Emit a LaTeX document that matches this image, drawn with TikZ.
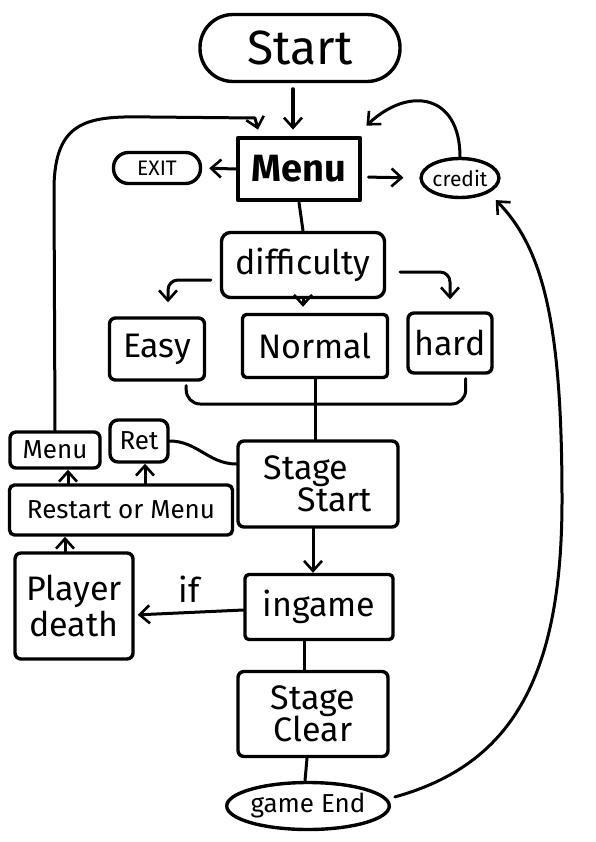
\documentclass[tikz,border=0pt]{standalone}
\usepackage{fontspec}
\setmainfont{Fira Sans}
\usetikzlibrary{arrows.meta,shapes.geometric}

\begin{document}
\begin{tikzpicture}[x=1pt,y=-1pt,line cap=round,line join=round,
    box/.style={draw,line width=3.4pt,inner sep=0pt,align=center},
    pill/.style={box,rounded corners=#1},
    oval/.style={box,ellipse},
    fbig/.style={font=\fontsize{48}{50}\selectfont},
    fmid/.style={font=\fontsize{34}{34}\selectfont},
    fsmall/.style={font=\fontsize{26}{28}\selectfont},
    arr/.style={-{Straight Barb[length=10pt,width=18pt,line width=2.6pt]},line width=3pt},
    link/.style={line width=3pt}]
  \useasboundingbox (0,0) rectangle (595,842);
  % nodes
  \node[pill=33pt,fbig,minimum width=200pt,minimum height=67pt] (start) at (300,48) {Start};
  \node[box,line width=4.8pt,font=\bfseries\fontsize{38}{40}\selectfont,minimum width=122pt,minimum height=62pt] (menu) at (299,169) {Menu};
  \node[pill=15pt,font=\fontsize{21}{22}\selectfont,minimum width=87pt,minimum height=31pt] (exit) at (157,168) {EXIT};
  \node[oval,font=\fontsize{21}{22}\selectfont,minimum width=75pt,minimum height=39pt] (credit) at (460,178) {credit};
  \node[pill=9pt,fmid,minimum width=163pt,minimum height=65pt] (diff) at (303,265) {difficulty};
  \node[pill=6pt,fmid,minimum width=95pt,minimum height=62pt] (easy) at (157,349) {Easy};
  \node[pill=4pt,fmid,minimum width=145pt,minimum height=63pt] (normal) at (315,346) {Normal};
  \node[pill=6pt,fmid,minimum width=84pt,minimum height=60pt] (hard) at (450,343) {hard};
  \node[pill=6pt,fmid,minimum width=160pt,minimum height=86pt,align=left] (stagestart) at (318,484) {Stage\\[-2pt]\hspace*{1em}Start};
  \node[pill=8pt,fsmall,minimum width=58pt,minimum height=42pt] (ret) at (139,441) {Ret};
  \node[pill=6pt,fsmall,minimum width=90pt,minimum height=36pt] (menub) at (55,450) {Menu};
  \node[pill=5pt,fsmall,minimum width=223pt,minimum height=50pt] (restart) at (121,510) {Restart or Menu};
  \node[pill=6pt,fmid,minimum width=118pt,minimum height=106pt] (death) at (74,606) {Player\\[2pt]death};
  \node[pill=4pt,fmid,minimum width=148pt,minimum height=65pt] (ingame) at (319,607) {ingame};
  \node[pill=6pt,fmid,minimum width=150pt,minimum height=85pt] (clear) at (313,714) {Stage\\[-2pt]Clear};
  \node[oval,fsmall,minimum width=153pt,minimum height=47pt] (gameend) at (308,806) {game End};
  % connectors
  \draw[arr,line width=4pt,shorten <=6pt] ([xshift=-7pt]start.south) -- ([xshift=-6pt,yshift=6pt]menu.north);
  \draw[arr,shorten >=7pt] (menu.west) -- (exit.east);
  \draw[arr,shorten <=6pt,shorten >=16pt] ([yshift=-8pt]menu.east) -- (credit.west);
  \draw[arr] (credit.north) .. controls (460,95) and (410,85) .. ([xshift=4pt,yshift=10pt]menu.north east);
  \draw[arr] (menub.north) -- (54,190) .. controls (54,118) and (90,116) .. (150,117)
    -- (255,118) -- ([xshift=-41pt,yshift=6pt]menu.north);
  \draw[link] (menu.south) -- (diff.north);
  \draw[arr,rounded corners=10pt,shorten <=9pt,shorten >=14pt] ([yshift=-15pt]diff.west) -| ([xshift=11pt]easy.north);
  \draw[arr,shorten >=6pt] (diff.south) -- (diff.south |- normal.north);
  \draw[arr,rounded corners=10pt,shorten <=14pt,shorten >=12pt] ([yshift=-7pt]diff.east) -| (hard.north);
  \coordinate (join) at (318,404);
  \draw[link,rounded corners=14pt] ([xshift=-20pt,yshift=-4pt]easy.south east) |- (join)
    -| ([xshift=-28pt,yshift=-4pt]hard.south east);
  \draw[link] (normal.south) -- (normal.south |- stagestart.north);
  \draw[link] ([yshift=20pt]stagestart.west) to[out=180,in=0] (ret.east);
  \draw[arr] ([xshift=-53pt]restart.north) -- ([xshift=13pt]menub.south);
  \draw[arr] ([xshift=24pt]restart.north) -- ([xshift=6pt]ret.south);
  \draw[arr] ([xshift=-9pt]death.north) -- ([xshift=-9pt]death.north |- restart.south);
  \draw[arr] ([xshift=-5pt]stagestart.south) -- ([xshift=-5pt]stagestart.south |- ingame.north);
  \draw[arr,shorten >=3pt] ([yshift=-3pt]ingame.west) -- ([yshift=-9pt]death.east)
    node[midway,above=5pt,fmid] (iflabel) {if};
  \draw[link] ([xshift=-15pt]ingame.south) -- ([xshift=-15pt]ingame.south |- clear.north);
  \draw[link] ([xshift=-6pt]clear.south) -- ([xshift=-3pt]gameend.north);
  \draw[arr,shorten <=4pt,shorten >=10pt] ([yshift=8pt]gameend.east) .. controls (510,765) and (562,680) .. (562,500)
    .. controls (562,330) and (545,250) .. (credit.south east);
\end{tikzpicture}
\end{document}
